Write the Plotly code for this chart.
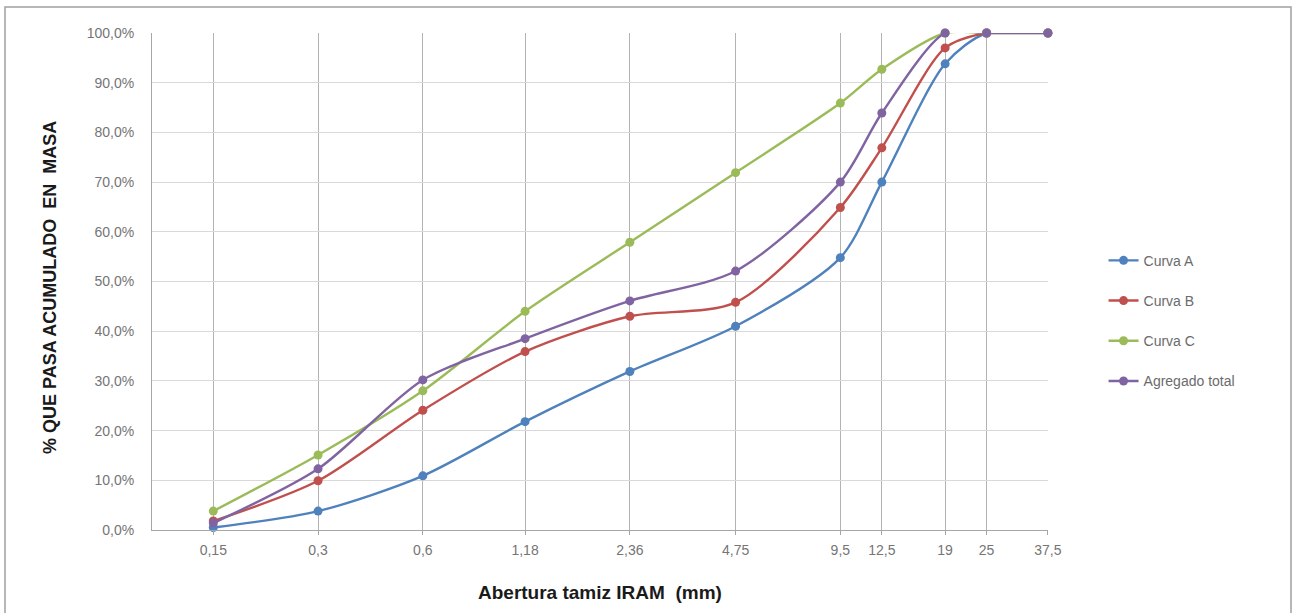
import math
import plotly.graph_objects as go

sieves = [0.15, 0.3, 0.6, 1.18, 2.36, 4.75, 9.5, 12.5, 19, 25, 37.5]
sieve_labels = ["0,15", "0,3", "0,6", "1,18", "2,36", "4,75", "9,5", "12,5", "19", "25", "37,5"]

curva_a = [0.5, 3.8, 10.9, 21.8, 31.9, 41.0, 54.8, 70.0, 93.8, 100.0, 100.0]
curva_b = [1.8, 9.9, 24.1, 35.9, 43.0, 45.8, 64.9, 76.9, 97.0, 100.0, 100.0]
curva_c = [3.8, 15.1, 28.0, 44.0, 57.9, 71.9, 85.9, 92.7, 100.0, 100.0, 100.0]
agregado = [1.4, 12.3, 30.2, 38.5, 46.1, 52.1, 70.0, 83.9, 100.0, 100.0, 100.0]

series_names = ["Curva A", "Curva B", "Curva C", "Agregado total"]
series_values = [curva_a, curva_b, curva_c, agregado]
colors = ["#4F81BD", "#C0504D", "#9BBB59", "#8064A2"]

y_ticks = [0, 10, 20, 30, 40, 50, 60, 70, 80, 90, 100]
y_tick_labels = ["0,0%", "10,0%", "20,0%", "30,0%", "40,0%", "50,0%",
                 "60,0%", "70,0%", "80,0%", "90,0%", "100,0%"]

fig = go.Figure()
for i, (name, vals, col) in enumerate(zip(series_names, series_values, colors)):
    fig.add_trace(go.Scatter(
        x=sieves, y=vals, name=name, mode="lines+markers",
        line=dict(color=col, width=2.4, shape="spline", smoothing=0.8),
        marker=dict(color=col, size=9, symbol="circle"),
        legendgroup=name, cliponaxis=False,
    ))

L, R, T, B = 152, 1048, 33, 530
W, H = 1293, 613

fig.update_layout(
    width=W, height=H,
    margin=dict(l=L, r=W - R, t=T, b=H - B),
    paper_bgcolor="white", plot_bgcolor="white",
    font=dict(family="Liberation Sans, Arial, sans-serif", size=13, color="#595959"),
    showlegend=True,
    legend=dict(x=1.062, y=0.421, xanchor="left", yanchor="middle",
                font=dict(size=14, color="#6b6b6b"), tracegroupgap=19,
                bgcolor="rgba(0,0,0,0)"),
    xaxis=dict(type="log", range=[-1, math.log10(37.5) + 0.0003], tickvals=sieves, ticktext=sieve_labels,
               showgrid=True, gridcolor="#b3b3b3", gridwidth=1,
               showline=True, linecolor="#a6a6a6", linewidth=1,
               ticks="outside", ticklen=4, tickcolor="#a6a6a6",
               zeroline=False, tickfont=dict(size=14, color="#757575"),
               ticklabelstandoff=3),
    yaxis=dict(range=[0, 100], tickvals=y_ticks, ticktext=y_tick_labels,
               showgrid=True, gridcolor="#d9d9d9", gridwidth=1,
               showline=True, linecolor="#a6a6a6", linewidth=1,
               zeroline=False, ticks="", tickfont=dict(size=14, color="#757575"),
               ticklabelstandoff=14),
    annotations=[
        dict(text="<b>% QUE PASA ACUMULADO  EN  MASA</b>", textangle=-90,
             xref="paper", yref="paper",
             x=(50 - L) / (R - L), y=(B - 288) / (B - T),
             xanchor="center", yanchor="middle", showarrow=False,
             font=dict(size=18, color="#1a1a1a")),
        dict(text="<b>Abertura tamiz IRAM  (mm)</b>",
             xref="paper", yref="paper",
             x=(600 - L) / (R - L), y=(B - 592) / (B - T),
             xanchor="center", yanchor="middle", showarrow=False,
             font=dict(size=19, color="#1a1a1a")),
    ],
    shapes=[
        dict(type="rect", xref="paper", yref="paper",
             x0=(5 - L) / (R - L), x1=(1291 - L) / (R - L),
             y0=(B - 640) / (B - T), y1=(B - 7) / (B - T),
             line=dict(color="#a0a0a0", width=1.5), fillcolor="rgba(0,0,0,0)", layer="below"),
    ],
)

fig.write_html("out.html")
